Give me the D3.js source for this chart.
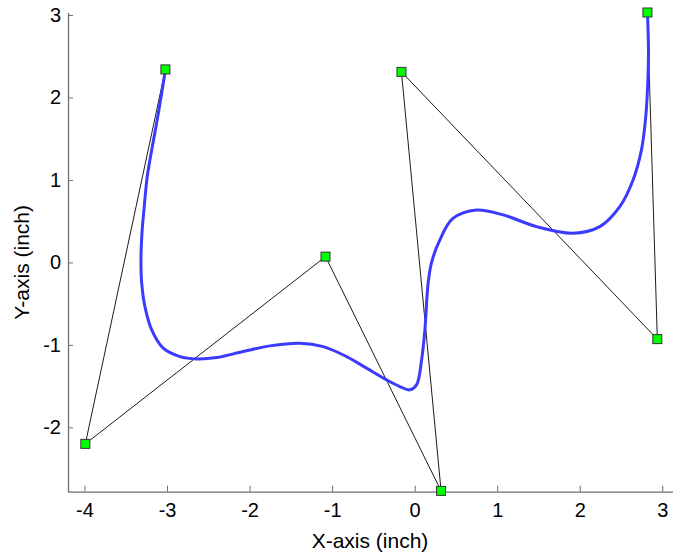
<!DOCTYPE html>
<html>
<head>
<meta charset="utf-8">
<script src="https://cdn.jsdelivr.net/npm/d3@7"></script>
<style>
  body { margin: 0; background: #fff; }
  svg { display: block; font-family: "Liberation Sans", Arial, Helvetica, sans-serif; }
</style>
</head>
<body>
<div id="chart"></div>
<script>
/* -------------------------------------------------------------------------- */
// control polygon (inch)
let ctrlX = [-3.02, -3.99, -1.08, 0.32, -0.16, 2.94, 2.82];
let ctrlY = [ 2.34, -2.20,  0.07, -2.77, 2.31, -0.93, 3.03];

// spline curve, points (inch)
let curveX = [-3.02, -3.065, -3.134, -3.186, -3.240, -3.280, -3.304, -3.316, -3.307, -3.268,
              -3.186, -3.046, -2.844, -2.641, -2.399, -2.077, -1.754, -1.390, -1.108, -0.825,
              -0.583, -0.340, -0.179, -0.058, 0.023, 0.084, 0.124, 0.163, 0.205, 0.300,
              0.460, 0.750, 1.072, 1.476, 1.920, 2.243, 2.485, 2.646, 2.748, 2.800,
              2.824, 2.833, 2.82];
let curveY = [2.34, 2.051, 1.646, 1.364, 1.040, 0.636, 0.354, 0.030, -0.252, -0.536,
              -0.818, -1.040, -1.142, -1.170, -1.154, -1.081, -1.012, -0.979, -1.021, -1.142,
              -1.282, -1.424, -1.505, -1.545, -1.485, -1.182, -0.818, -0.252, 0.000, 0.260,
              0.530, 0.635, 0.576, 0.434, 0.354, 0.434, 0.676, 1.000, 1.364, 1.767,
              2.172, 2.576, 3.03];

let xTicks = [-4, -3, -2, -1, 0, 1, 2, 3];
let yTicks = [-2, -1, 0, 1, 2, 3];

let xLabel = 'X-axis (inch)';
let yLabel = 'Y-axis (inch)';

/* -------------------------------------------------------------------------- */
let width = 673, height = 555;
let axisColor = '#6e6e6e';

let svg = d3.select('#chart').append('svg')
  .attr('width', width)
  .attr('height', height);

// axis equal: same px per inch on both axes
let x = d3.scaleLinear().domain([-4.2, 3.13]).range([68, 673]);
let y = d3.scaleLinear().domain([-2.78, 3.03]).range([491.7, 12.5]);

let ctrl = ctrlX.map((d, i) => [d, ctrlY[i]]);
let curve = curveX.map((d, i) => [d, curveY[i]]);

/* -------------------------------------------------------------------------- */
// axes (left + bottom only, ticks pointing in)
let xAxis = d3.axisBottom(x)
  .tickValues(xTicks)
  .tickFormat(d => String(d))
  .tickSizeInner(-6)
  .tickSizeOuter(0)
  .tickPadding(11);

let yAxis = d3.axisLeft(y)
  .tickValues(yTicks)
  .tickFormat(d => String(d))
  .tickSizeInner(-5)
  .tickSizeOuter(0)
  .tickPadding(7);

let gx = svg.append('g')
  .attr('transform', 'translate(0,' + y.range()[0] + ')')
  .call(xAxis);

let gy = svg.append('g')
  .attr('transform', 'translate(' + x.range()[0] + ',0)')
  .call(yAxis);

[gx, gy].forEach(function (g) {
  g.select('.domain').attr('stroke', axisColor).attr('stroke-width', 1.3);
  g.selectAll('.tick line').attr('stroke', axisColor).attr('stroke-width', 1);
  g.selectAll('.tick text')
    .attr('fill', '#000')
    .style('font-size', '20px')
    .style('font-family', '"Liberation Sans", Arial, sans-serif');
});

gx.selectAll('.tick text').attr('dy', '0.71em');

/* -------------------------------------------------------------------------- */
// control polygon
svg.append('path')
  .datum(ctrl)
  .attr('fill', 'none')
  .attr('stroke', '#000')
  .attr('stroke-width', 0.9)
  .attr('d', d3.line().x(d => x(d[0])).y(d => y(d[1])));

// spline
svg.append('path')
  .datum(curve)
  .attr('fill', 'none')
  .attr('stroke', '#3b3bff')
  .attr('stroke-width', 3)
  .attr('stroke-linejoin', 'round')
  .attr('stroke-linecap', 'round')
  .attr('d', d3.line()
    .curve(d3.curveCatmullRom.alpha(0.5))
    .x(d => x(d[0])).y(d => y(d[1])));

// markers
let ms = 9;
svg.append('g').selectAll('rect')
  .data(ctrl)
  .join('rect')
  .attr('x', d => x(d[0]) - ms / 2)
  .attr('y', d => y(d[1]) - ms / 2)
  .attr('width', ms)
  .attr('height', ms)
  .attr('fill', '#00ff00')
  .attr('stroke', '#333')
  .attr('stroke-width', 1);

/* -------------------------------------------------------------------------- */
// labels
svg.append('text')
  .attr('x', 370)
  .attr('y', 548)
  .attr('text-anchor', 'middle')
  .style('font-size', '21px')
  .text(xLabel);

svg.append('text')
  .attr('transform', 'translate(29,' + y(0) + ') rotate(-90)')
  .attr('text-anchor', 'middle')
  .style('font-size', '21px')
  .text(yLabel);
</script>
</body>
</html>
